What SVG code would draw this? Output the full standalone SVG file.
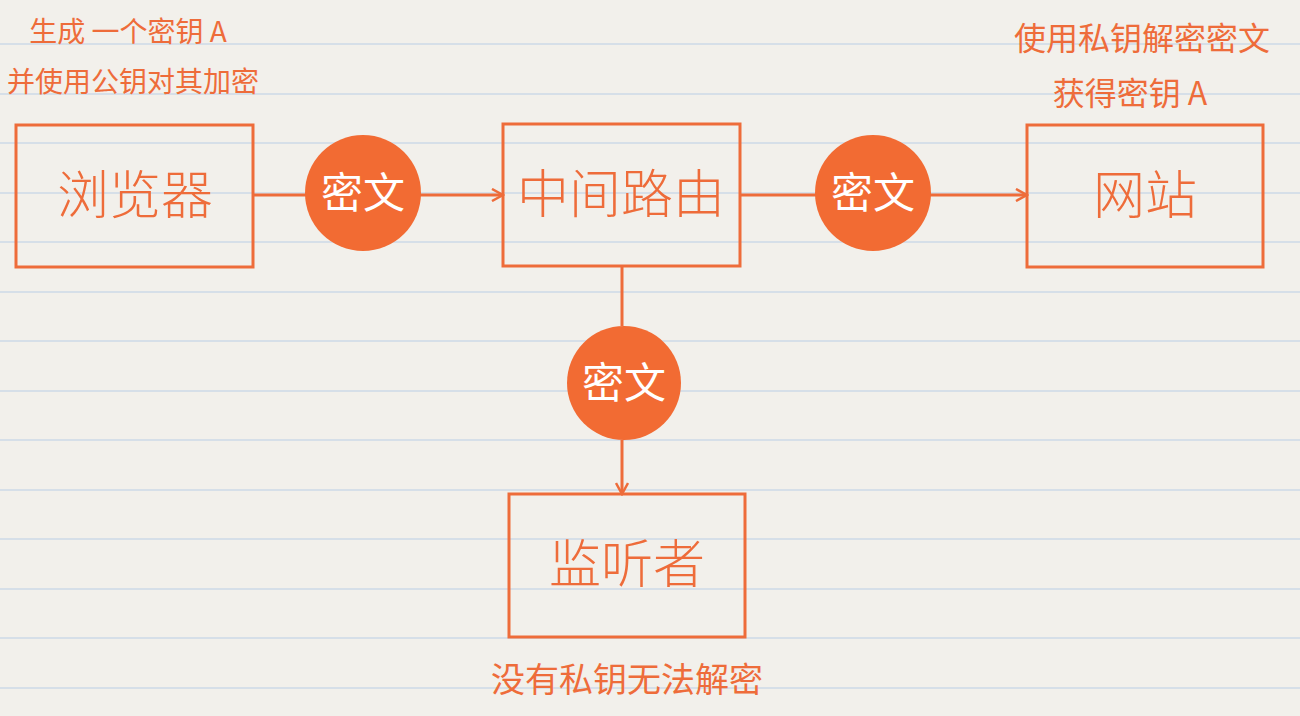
<svg xmlns="http://www.w3.org/2000/svg" width="1300" height="716" viewBox="0 0 1300 716">
<defs>
<style>
.bg{fill:#f2f0eb}
.rule{stroke:#d6dfe8;stroke-width:2}
.box{fill:none;stroke:#ee6c3a;stroke-width:3}
.ln{stroke:#ee6c3a;stroke-width:3;fill:none}
.circ{fill:#f26b33}
.t{font-family:"Noto Sans CJK SC",sans-serif;fill:#ee6c3a;text-anchor:middle}
.big{font-size:52px;font-weight:300}
.small{font-size:28px}
.ct{font-family:"Noto Sans CJK SC",sans-serif;fill:#fff;font-size:42px;text-anchor:middle}
</style>
<marker id="ah" markerWidth="14" markerHeight="14" refX="12" refY="7" orient="auto" markerUnits="userSpaceOnUse">
<path d="M1,1 L12,7 L1,13" fill="none" stroke="#ee6c3a" stroke-width="2.5"/>
</marker>
</defs>
<rect class="bg" width="1300" height="716"/>
<g id="rules">
<line class="rule" x1="0" x2="1300" y1="44" y2="44"/><line class="rule" x1="0" x2="1300" y1="94" y2="94"/>
<line class="rule" x1="0" x2="1300" y1="143" y2="143"/><line class="rule" x1="0" x2="1300" y1="193" y2="193"/>
<line class="rule" x1="0" x2="1300" y1="242" y2="242"/><line class="rule" x1="0" x2="1300" y1="292" y2="292"/>
<line class="rule" x1="0" x2="1300" y1="341" y2="341"/><line class="rule" x1="0" x2="1300" y1="391" y2="391"/>
<line class="rule" x1="0" x2="1300" y1="440" y2="440"/><line class="rule" x1="0" x2="1300" y1="490" y2="490"/>
<line class="rule" x1="0" x2="1300" y1="539" y2="539"/><line class="rule" x1="0" x2="1300" y1="589" y2="589"/>
<line class="rule" x1="0" x2="1300" y1="638" y2="638"/><line class="rule" x1="0" x2="1300" y1="688" y2="688"/>
</g>
<g id="connectors">
<line class="ln" x1="253" y1="195" x2="306" y2="195"/>
<line class="ln" x1="420" y1="195" x2="503" y2="195" marker-end="url(#ah)"/>
<line class="ln" x1="740" y1="195" x2="816" y2="195"/>
<line class="ln" x1="930" y1="195" x2="1027" y2="195" marker-end="url(#ah)"/>
<line class="ln" x1="622" y1="266" x2="622" y2="326"/>
<line class="ln" x1="622" y1="440" x2="622" y2="494" marker-end="url(#ah)"/>
</g>
<g id="browser"><rect class="box" x="16" y="125" width="237" height="142"/><text class="t big" x="135" y="214">浏览器</text></g>
<g id="router"><rect class="box" x="503" y="124" width="237" height="142"/><text class="t big" x="621" y="213">中间路由</text></g>
<g id="website"><rect class="box" x="1027" y="125" width="236" height="142"/><text class="t big" x="1145" y="214">网站</text></g>
<g id="listener"><rect class="box" x="509" y="494" width="236" height="143"/><text class="t big" x="627" y="583">监听者</text></g>
<g id="c1"><circle class="circ" cx="363" cy="193" r="58"/><text class="ct" x="363" y="208">密文</text></g>
<g id="c2"><circle class="circ" cx="873" cy="193" r="58"/><text class="ct" x="873" y="208">密文</text></g>
<g id="c3"><circle class="circ" cx="624" cy="383" r="57"/><text class="ct" x="624" y="398">密文</text></g>
<g id="labels">
<text class="t small" x="128" y="42">生成 一个密钥 A</text>
<text class="t small" x="133" y="92">并使用公钥对其加密</text>
<text class="t" style="font-size:32px" x="1142" y="50">使用私钥解密密文</text>
<text class="t" style="font-size:32px" x="1130" y="105">获得密钥 A</text>
<text class="t" style="font-size:34px" x="627" y="692">没有私钥无法解密</text>
</g>
</svg>
